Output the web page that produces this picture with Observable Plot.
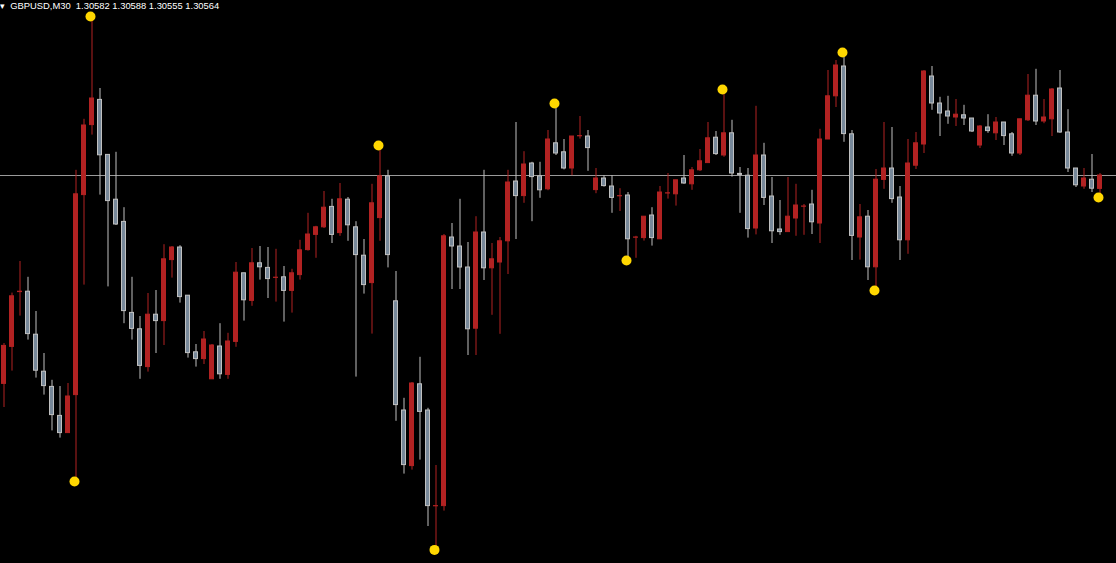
<!DOCTYPE html>
<html>
<head>
<meta charset="utf-8">
<script src="https://cdn.jsdelivr.net/npm/d3@7"></script>
<script src="https://cdn.jsdelivr.net/npm/@observablehq/plot@0.6"></script>
<style>
  html, body { margin: 0; padding: 0; background: #000; overflow: hidden; }
  #wrap { position: relative; width: 1116px; height: 563px; }
  #title { position: absolute; left: 0; top: 0; color: #ffffff; font: 9.4px "Liberation Sans", Arial, sans-serif; line-height: 11px; white-space: pre; }
  #chart svg { display: block; }
</style>
</head>
<body>
<div id="wrap">
  <div id="chart"></div>
  <div id="title"></div>
</div>
<script>
const symbolLabel = "GBPUSD,M30";
const headerValues = ["1.30582", "1.30588", "1.30555", "1.30564"];
const currentPrice = 1.30564;

const open = [
1.29522,1.29707,1.29981,1.29983,1.29768,1.29583,1.29507,1.29362,1.29276,1.29466,
1.30466,1.30816,1.30942,1.30667,1.30443,1.30332,1.29877,1.29795,1.29606,1.29868,
1.29836,1.30141,1.30204,1.29963,1.29680,1.29646,1.29545,1.29709,1.29567,1.29732,
1.30075,1.29937,1.30125,1.30102,1.30052,1.30055,1.29987,1.30066,1.30191,1.30267,
1.30305,1.30407,1.30276,1.30443,1.30305,1.30163,1.30026,1.30351,1.30560,1.29935,
1.29389,1.29111,1.29520,1.29389,1.28910,1.28911,1.30254,1.30209,1.30104,1.29798,
1.30279,1.30100,1.30129,1.30235,1.30534,1.30461,1.30624,1.30560,1.30495,1.30725,
1.30680,1.30599,1.30760,1.30759,1.30491,1.30549,1.30509,1.30460,1.30464,1.30253,
1.30251,1.30364,1.30245,1.30474,1.30470,1.30549,1.30520,1.30590,1.30626,1.30753,
1.30664,1.30775,1.30572,1.30563,1.30299,1.30664,1.30459,1.30294,1.30281,1.30349,
1.30408,1.30419,1.30324,1.30744,1.30960,1.31109,1.30770,1.30254,1.30358,1.30105,
1.30542,1.30599,1.30454,1.30240,1.30613,1.30719,1.31059,1.30924,1.30884,1.30854,
1.30865,1.30849,1.30714,1.30804,1.30775,1.30829,1.30770,1.30674,1.30840,1.30963,
1.30834,1.30845,1.30999,1.30779,1.30599,1.30509,1.30543,1.30497
];
const high = [
1.29724,1.29976,1.30134,1.30055,1.29884,1.29674,1.29540,1.29509,1.29524,1.30590,
1.30845,1.31359,1.30999,1.30667,1.30680,1.30403,1.30055,1.29859,1.29974,1.29989,
1.30218,1.30209,1.30213,1.29963,1.29719,1.29784,1.29719,1.29823,1.29775,1.30129,
1.30075,1.30199,1.30209,1.30204,1.30195,1.30109,1.30095,1.30240,1.30375,1.30310,
1.30484,1.30445,1.30524,1.30454,1.30333,1.30244,1.30520,1.30714,1.30590,1.30084,
1.29450,1.29529,1.29655,1.29400,1.29114,1.30269,1.30324,1.30445,1.30229,1.30358,
1.30590,1.30224,1.30254,1.30590,1.30829,1.30683,1.30630,1.30630,1.30789,1.30924,
1.30744,1.30759,1.30859,1.30789,1.30599,1.30563,1.30563,1.30498,1.30479,1.30260,
1.30358,1.30403,1.30509,1.30574,1.30540,1.30664,1.30604,1.30694,1.30829,1.30784,
1.30994,1.30840,1.30604,1.30599,1.30910,1.30725,1.30554,1.30439,1.30554,1.30520,
1.30419,1.30490,1.30795,1.31089,1.31139,1.31179,1.30789,1.30419,1.30389,1.30594,
1.30829,1.30804,1.30509,1.30744,1.30779,1.31089,1.31109,1.30955,1.30960,1.30944,
1.30915,1.30849,1.30814,1.30868,1.30854,1.30829,1.30779,1.30845,1.31069,1.31095,
1.30944,1.30999,1.31089,1.30893,1.30599,1.30599,1.30669,1.30574
];
const low = [
1.29404,1.29586,1.29861,1.29741,1.29551,1.29466,1.29287,1.29251,1.29276,1.29034,
1.30016,1.30766,1.30466,1.30007,1.30314,1.29823,1.29741,1.29545,1.29581,1.29674,
1.29714,1.30051,1.29926,1.29651,1.29606,1.29619,1.29545,1.29545,1.29545,1.29705,
1.29836,1.29910,1.30041,1.29949,1.29931,1.29831,1.29876,1.30041,1.30186,1.30150,
1.30299,1.30224,1.30260,1.30235,1.29556,1.29971,1.29771,1.30235,1.30102,1.29335,
1.29071,1.29091,1.29141,1.28809,1.28692,1.28886,1.29994,1.29994,1.29664,1.29664,
1.30039,1.29865,1.29770,1.30069,1.30244,1.30425,1.30333,1.30450,1.30488,1.30664,
1.30592,1.30563,1.30746,1.30585,1.30473,1.30506,1.30375,1.30384,1.30139,1.30150,
1.30236,1.30211,1.30245,1.30446,1.30411,1.30520,1.30490,1.30584,1.30626,1.30664,
1.30655,1.30556,1.30375,1.30251,1.30267,1.30414,1.30224,1.30265,1.30281,1.30260,
1.30265,1.30269,1.30224,1.30744,1.30904,1.30730,1.30139,1.30141,1.30039,1.29989,
1.30495,1.30425,1.30139,1.30170,1.30594,1.30674,1.30890,1.30759,1.30820,1.30809,
1.30814,1.30779,1.30699,1.30775,1.30739,1.30714,1.30660,1.30664,1.30834,1.30814,
1.30823,1.30759,1.30775,1.30579,1.30504,1.30495,1.30479,1.30454
];
const close = [
1.29712,1.29960,1.29983,1.29771,1.29588,1.29511,1.29366,1.29276,1.29459,1.30470,
1.30814,1.30949,1.30665,1.30436,1.30319,1.29886,1.29797,1.29612,1.29868,1.29836,
1.30145,1.30204,1.29956,1.29676,1.29646,1.29744,1.29714,1.29570,1.29734,1.30078,
1.29940,1.30125,1.30105,1.30046,1.30053,1.29987,1.30075,1.30190,1.30269,1.30305,
1.30403,1.30267,1.30445,1.30315,1.30166,1.30016,1.30425,1.30560,1.30166,1.29416,
1.29116,1.29524,1.29382,1.28911,1.28911,1.30260,1.30209,1.30104,1.29795,1.30279,
1.30100,1.30145,1.30235,1.30529,1.30461,1.30619,1.30556,1.30490,1.30744,1.30674,
1.30599,1.30759,1.30761,1.30701,1.30549,1.30511,1.30452,1.30461,1.30245,1.30254,
1.30358,1.30251,1.30479,1.30475,1.30540,1.30524,1.30590,1.30635,1.30750,1.30671,
1.30775,1.30574,1.30567,1.30296,1.30664,1.30452,1.30285,1.30281,1.30358,1.30414,
1.30409,1.30330,1.30744,1.30960,1.31114,1.30771,1.30262,1.30355,1.30105,1.30543,
1.30599,1.30446,1.30240,1.30624,1.30725,1.31084,1.30924,1.30874,1.30859,1.30868,
1.30849,1.30784,1.30809,1.30786,1.30829,1.30761,1.30674,1.30845,1.30963,1.30834,
1.30854,1.30994,1.30779,1.30599,1.30515,1.30549,1.30498,1.30564
];
// swing markers (index of bar, which extreme)
const swingHighBars = [11, 47, 69, 90, 105];
const swingLowBars = [9, 54, 78, 109, 137];

const bullColor = "#b22222";
const bearFill = "#778899";
const bearEdge = "#c0c0c0";

const candles = open.map((o, i) => ({
  i, open: o, high: high[i], low: low[i], close: close[i], up: close[i] >= o
}));
const swings = [
  ...swingHighBars.map(i => ({i, price: high[i]})),
  ...swingLowBars.map(i => ({i, price: low[i]}))
];

const chart = Plot.plot({
  width: 1116,
  height: 563,
  margin: 0,
  style: {background: "#000000"},
  x: {type: "linear", domain: [0, open.length - 1], range: [3.5, 1099.5], axis: null},
  y: {domain: [1.28624, 1.31439], range: [563, 0], axis: null},
  color: {type: "identity"},
  marks: [
    Plot.ruleY([currentPrice], {stroke: "#9a9a9a", strokeWidth: 1}),
    Plot.ruleX(candles, {x: "i", y1: "low", y2: "high", stroke: d => d.up ? bullColor : bearEdge, strokeWidth: 1}),
    Plot.rect(candles, {
      x1: d => d.i - 0.25, x2: d => d.i + 0.25,
      y1: "open", y2: "close",
      fill: d => d.up ? bullColor : bearFill,
      stroke: d => d.up ? bullColor : bearEdge,
      strokeWidth: 1
    }),
    Plot.dot(swings, {x: "i", y: "price", r: 5, dx: -1.5, fill: "#ffd700", stroke: "none"})
  ]
});
document.getElementById("chart").appendChild(chart);
document.getElementById("title").textContent = "\u25BE  " + symbolLabel + "  " + headerValues.join(" ");
</script>
</body>
</html>
